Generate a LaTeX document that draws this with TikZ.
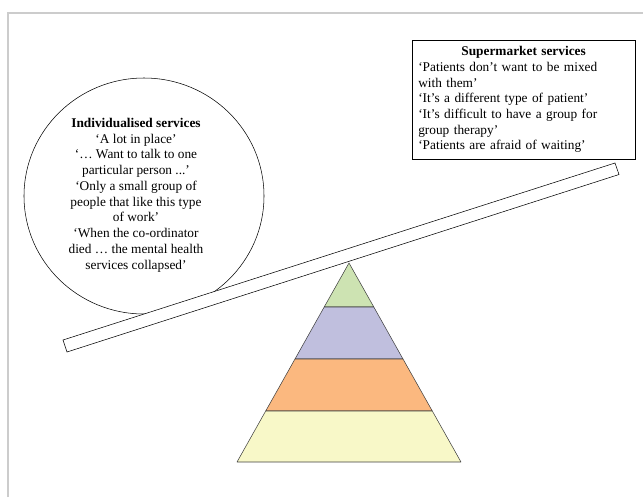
\documentclass[tikz,border=0pt]{standalone}
\usepackage{fontspec}
\setmainfont{Liberation Serif}
\usepackage{tikz}
\usetikzlibrary{shapes.geometric}
\pgfdeclarelayer{background}
\pgfdeclarelayer{foreground}
\pgfsetlayers{background,main,foreground}

\definecolor{layergreen}{HTML}{CDE3B2}
\definecolor{layerpurple}{HTML}{C0BFDE}
\definecolor{layerorange}{HTML}{FBB87F}
\definecolor{layeryellow}{HTML}{F8F8C8}

\begin{document}
\begin{tikzpicture}[x=0.75pt,y=-0.75pt,line width=0.6pt,
  quote/.style={font=\fontsize{10}{11.8}\selectfont,inner sep=0pt},
  layer/.style={draw=black!75,line join=round}]
\useasboundingbox (0,0) rectangle (643,497);
\begin{pgfonlayer}{background}
\draw[black!20,line width=1.2pt] (8,497) -- (8,13) -- (643,13);
\end{pgfonlayer}
% individualised side of the balance
\node[draw,ellipse,minimum width=180pt,minimum height=177pt] (indiv) at (144,196) {};
\node[quote,align=center] (indivtext) at (136,195) {\textbf{Individualised services}\\
‘A lot in place’\\
‘… Want to talk to one\\
particular person ...’\\
‘Only a small group of\\
people that like this type\\
of work’\\
‘When the co-ordinator\\
died … the mental health\\
services collapsed’};
% supermarket side
\node[draw,quote,anchor=north west,text width=158pt,inner xsep=4.5pt,inner ysep=4pt,
  minimum height=89pt,align=left] (super) at (412,40) {\makebox[\linewidth]{\textbf{Supermarket services}}\\
‘Patients don’t want to be mixed\\
with them’\\
‘It’s a different type of patient’\\
‘It’s difficult to have a group for\\
group therapy’\\
‘Patients are afraid of waiting’};
% pyramid, four layers
\draw[layer,fill=layergreen] (349,263) -- (373.8,307) -- (324.2,307) -- cycle;
\draw[layer,fill=layerpurple] (324.2,307) -- (373.8,307) -- (403,359) -- (295,359) -- cycle;
\draw[layer,fill=layerorange] (295,359) -- (403,359) -- (432.3,411) -- (265.7,411) -- cycle;
\draw[layer,fill=layeryellow] (265.7,411) -- (432.3,411) -- (461,462) -- (237,462) -- cycle;
\begin{pgfonlayer}{foreground}
% the tilted beam
\draw[fill=white] (63,340) -- (615,163) -- (619,174.5) -- (67,352) -- cycle;
\end{pgfonlayer}
\end{tikzpicture}
\end{document}
